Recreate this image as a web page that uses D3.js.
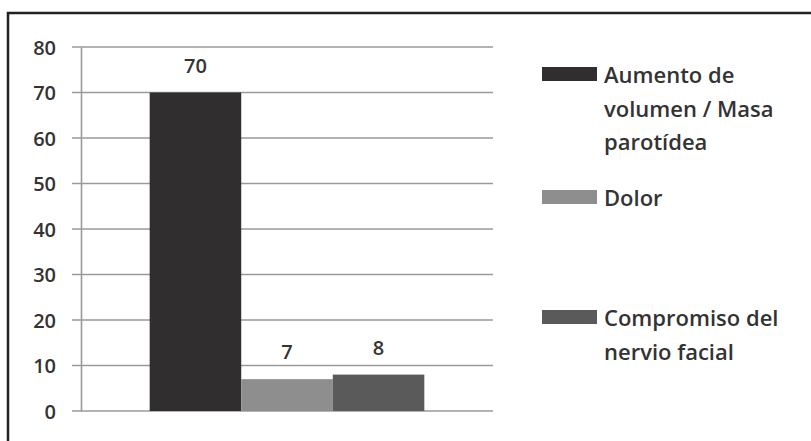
<!DOCTYPE html>
<html>
<head>
<meta charset="utf-8">
<script src="https://cdn.jsdelivr.net/npm/d3@7"></script>
<style>
	body { margin: 0; background: #fff; }
	text { font-family: 'Open Sans', sans-serif; fill: #333; font-weight: 600; }
</style>
</head>
<body>
<div id="chart"></div>
<script>
// data
var series = ['Aumento de volumen / Masa parotídea', 'Dolor', 'Compromiso del nervio facial']
var legendLines = [['Aumento de', 'volumen / Masa', 'parotídea'], ['Dolor'], ['Compromiso del', 'nervio facial']]
var values = [70, 7, 8]
var yTicks = [0, 10, 20, 30, 40, 50, 60, 70, 80]
var colors = ['#302e2f', '#8e8e8e', '#5a5a5a']

let width = 811
let height = 441
var margin = { top: 47, right: 318, bottom: 30, left: 81 }

const svg = d3.select('#chart').append('svg')
	.attr('width', width)
	.attr('height', height)

// outer frame (runs off right and bottom edges)
svg.append('rect')
	.attr('x', 8)
	.attr('y', 13)
	.attr('width', 820)
	.attr('height', 450)
	.attr('fill', 'none')
	.attr('stroke', '#222')
	.attr('stroke-width', 2.5)

var y = d3.scaleLinear()
	.domain([0, 80])
	.range([411, margin.top])

var x = d3.scaleBand()
	.domain(['all'])
	.range([margin.left, width - margin.right])
	.paddingInner(0)
	.paddingOuter(0.25)

var xs = d3.scaleBand()
	.domain(series)
	.range([x('all'), x('all') + x.bandwidth()])

// gridlines
svg.append('g')
	.selectAll('line')
	.data(yTicks)
	.enter()
	.append('line')
	.attr('x1', 72)
	.attr('x2', width - margin.right)
	.attr('y1', d => y(d))
	.attr('y2', d => y(d))
	.attr('stroke', '#9a9a9a')
	.attr('stroke-width', 1.6)

// y axis
var yAxis = svg.append('g')
	.attr('transform', `translate(${margin.left},0)`)
	.call(d3.axisLeft(y).tickValues(yTicks).tickSize(0).tickPadding(0))
yAxis.select('.domain')
	.attr('stroke', '#9a9a9a')
	.attr('stroke-width', 1.6)
yAxis.selectAll('text')
	.attr('x', -25)
	.attr('dy', '0.35em')
	.style('font-size', '20px')
	.style('font-family', "'Open Sans', sans-serif")
	.style('font-weight', 600)
	.attr('fill', '#3a3a3a')

// bars
svg.append('g')
	.selectAll('rect')
	.data(values)
	.enter()
	.append('rect')
	.attr('x', (d, i) => xs(series[i]))
	.attr('y', d => y(d))
	.attr('width', xs.bandwidth())
	.attr('height', d => y(0) - y(d))
	.attr('fill', (d, i) => colors[i])

// value labels
svg.append('g')
	.selectAll('text')
	.data(values)
	.enter()
	.append('text')
	.attr('x', (d, i) => xs(series[i]) + xs.bandwidth() / 2)
	.attr('y', d => y(d) - 20)
	.attr('text-anchor', 'middle')
	.style('font-size', '20px')
	.text(d => d)

// legend
var legendY = [67, 190, 310]
var legend = svg.append('g')

legend.selectAll('rect')
	.data(series)
	.enter()
	.append('rect')
	.attr('x', 542)
	.attr('y', (d, i) => legendY[i])
	.attr('width', 55)
	.attr('height', 14)
	.attr('fill', (d, i) => colors[i])

legend.selectAll('text')
	.data(legendLines)
	.enter()
	.append('text')
	.attr('x', 604)
	.attr('y', (d, i) => legendY[i] + 16)
	.style('font-size', '22px')
	.each(function(lines) {
		var el = d3.select(this)
		lines.forEach((l, k) => {
			el.append('tspan')
				.attr('x', 604)
				.attr('dy', k === 0 ? 0 : 33.5)
				.text(l)
		})
	})
</script>
</body>
</html>
